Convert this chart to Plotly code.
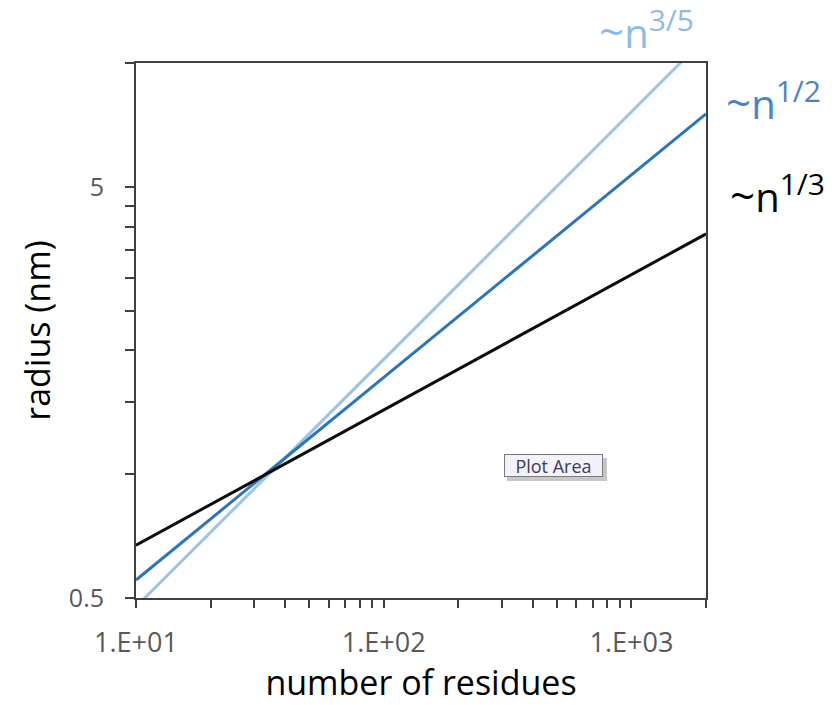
import plotly.graph_objects as go

# ---- data ----
n_residues = [10, 15, 20, 30, 50, 70, 100, 150, 200, 300, 500, 700, 1000, 1500, 2000]
r_n13 = [0.672, 0.768, 0.844, 0.965, 1.141, 1.275, 1.433, 1.638, 1.800, 2.058, 2.434, 2.719, 3.057, 3.494, 3.840]
r_n12 = [0.553, 0.675, 0.778, 0.950, 1.222, 1.442, 1.719, 2.099, 2.419, 2.954, 3.799, 4.483, 5.345, 6.526, 7.520]
r_n35 = [0.476, 0.607, 0.722, 0.921, 1.253, 1.534, 1.902, 2.427, 2.887, 3.684, 5.010, 6.140, 7.610, 9.710, 11.55]

x_tickvals = [10, 100, 1000]
x_ticktext = ["1.E+01", "1.E+02", "1.E+03"]
x_minor = [20, 30, 40, 50, 60, 70, 80, 90, 200, 300, 400, 500, 600, 700, 800, 900, 2000]
y_tickvals = [0.5, 5]
y_ticktext = ["0.5", "5"]
y_minor = [1, 1.5, 2, 2.5, 3, 3.5, 4, 4.5, 10]

C_BLACK = "#0d0d0d"
C_BLUE = "#2E75B6"
C_LIGHT = "#9DC3E6"
FONT = "Open Sans"

fig = go.Figure()
fig.add_trace(go.Scatter(x=n_residues, y=r_n35, mode="lines",
                         line=dict(color=C_LIGHT, width=3), showlegend=False))
fig.add_trace(go.Scatter(x=n_residues, y=r_n12, mode="lines",
                         line=dict(color=C_BLUE, width=3), showlegend=False))
fig.add_trace(go.Scatter(x=n_residues, y=r_n13, mode="lines",
                         line=dict(color=C_BLACK, width=3), showlegend=False))

axis_common = dict(
    showline=True, linecolor="#404040", linewidth=2, mirror=True,
    showgrid=False, zeroline=False, ticks="outside", tickcolor="#404040",
    tickwidth=2,
)

fig.update_xaxes(
    type="log", range=[1, 3.30103],
    tickmode="array", tickvals=x_tickvals, ticktext=x_ticktext,
    ticklen=8, ticklabelstandoff=12,
    tickfont=dict(family=FONT, size=27, color="#595959"),
    minor=dict(tickmode="array", tickvals=x_minor, ticks="outside", ticklen=8,
               tickcolor="#404040", tickwidth=2, showgrid=False),
    title=dict(text="number of residues", font=dict(family=FONT, size=34, color="#000000"),
               standoff=18),
    **axis_common,
)
fig.update_yaxes(
    type="log", range=[-0.30103, 1],
    tickmode="array", tickvals=y_tickvals, ticktext=y_ticktext,
    ticklen=9, ticklabelstandoff=16,
    tickfont=dict(family=FONT, size=25, color="#595959"),
    minor=dict(tickmode="array", tickvals=y_minor, ticks="outside", ticklen=9,
               tickcolor="#404040", tickwidth=2, showgrid=False),
    title=dict(text="radius (nm)", font=dict(family=FONT, size=34, color="#000000"),
               standoff=8),
    **axis_common,
)

# page has an 8px body margin; plot area targeted at screen x 136..706, y 63..598
OFF = 8
W, H = 839 - OFF, 705 - OFF
L, T = 136 - OFF, 63 - OFF
pw, ph = 570, 535
R = W - L - pw
B = H - T - ph

def px(xs):
    return (xs - 136) / pw

def py(ys):
    return (598 - ys) / ph

def power_label(exp):
    return "<span style='font-size:44px'>~</span>n<sup><span style='font-size:30px'>" + exp + "</span></sup>"

annos = [
    dict(text=power_label("3/5"), x=px(597), y=py(63), color="#8DBBE6"),
    dict(text=power_label("1/2"), x=px(724), y=py(134), color="#4A84C4"),
    dict(text=power_label("1/3"), x=px(728), y=py(227), color="#000000"),
]
for a in annos:
    fig.add_annotation(text=a["text"], x=a["x"], y=a["y"], xref="paper", yref="paper",
                       xanchor="left", yanchor="bottom", showarrow=False,
                       font=dict(family=FONT, size=40, color=a["color"]))

# "Plot Area" tooltip (with shadow)
fig.add_shape(type="rect", xref="paper", yref="paper",
              x0=px(507), x1=px(607), y0=py(481), y1=py(458),
              fillcolor="rgba(0,0,0,0.22)", line=dict(width=0), layer="above")
fig.add_annotation(text="Plot Area", x=px(553.5), y=py(465.5), xref="paper", yref="paper",
                   xanchor="center", yanchor="middle", showarrow=False,
                   width=95, height=19, borderpad=1, borderwidth=1,
                   bordercolor="#7a7a7a", bgcolor="#f3f2fb",
                   font=dict(family=FONT, size=18, color="#3d3b5c"))

fig.update_layout(
    width=W, height=H,
    margin=dict(l=L, r=R, t=T, b=B, autoexpand=False),
    paper_bgcolor="white", plot_bgcolor="white",
)

fig.write_html("out.html")
